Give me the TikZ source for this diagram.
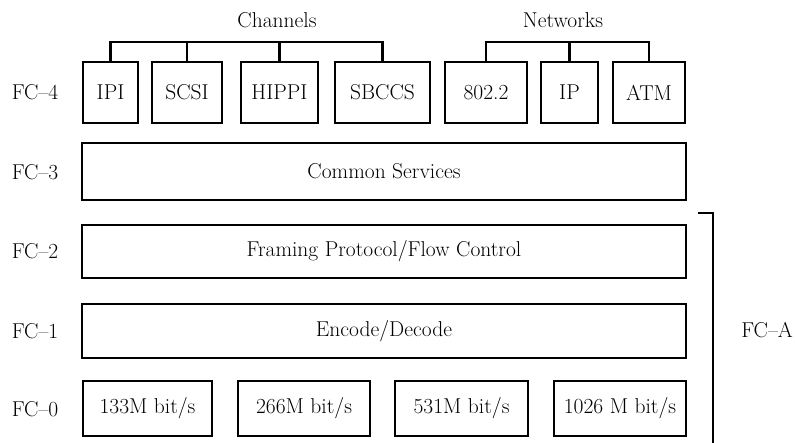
\documentclass[tikz,border=0pt]{standalone}
\usetikzlibrary{calc}
\begin{document}
\begin{tikzpicture}[x=1pt,y=-1pt,
  box/.style={draw,line width=2.6pt,rectangle,inner sep=0pt,font=\fontsize{21.5}{25}\selectfont},
  lbl/.style={inner sep=0pt,font=\fontsize{21.5}{25}\selectfont},
  bus/.style={line width=2.6pt},
  brk/.style={line width=1.8pt}]
\useasboundingbox (0,0) rectangle (795,443);
% FC-4 boxes
\node[box,minimum width=55pt,minimum height=61pt] (ipi) at (110.5,92.5) {IPI};
\node[box,minimum width=70pt,minimum height=61pt] (scsi) at (187,92.5) {SCSI};
\node[box,minimum width=77pt,minimum height=61pt] (hippi) at (279.5,92.5) {HIPPI};
\node[box,minimum width=95pt,minimum height=61pt] (sbccs) at (382.5,92.5) {SBCCS};
\node[box,minimum width=82pt,minimum height=61pt] (ieee) at (486,92.5) {802.2};
\node[box,minimum width=57pt,minimum height=61pt] (ip) at (569.5,92.5) {IP};
\node[box,minimum width=72pt,minimum height=61pt] (atm) at (649,92.5) {ATM};
% buses
\node[lbl] (chan) at (277,20) {Channels};
\node[lbl] (net) at (563,20) {Networks};
\coordinate (cb) at (0,42);
\draw[bus] (ipi.north) |- (sbccs.north |- cb) -- (sbccs.north);
\draw[bus] (scsi.north) -- (scsi.north |- cb);
\draw[bus] (hippi.north) -- (hippi.north |- cb);
\draw[bus] (ieee.north) |- (atm.north |- cb) -- (atm.north);
\draw[bus] (ip.north) -- (ip.north |- cb);
% layers
\node[box,minimum width=604pt,minimum height=57pt] (fc3) at (384,171.5) {Common Services};
\node[box,minimum width=604pt,minimum height=53pt] (fc2) at (384,251.5) {Framing Protocol/Flow Control};
\node[box,minimum width=604pt,minimum height=54pt] (fc1) at (384,331) {Encode/Decode};
% FC-0
\node[box,minimum width=129pt,minimum height=55pt] (r1) at (147.5,408.5) {133M bit/s};
\node[box,minimum width=132pt,minimum height=55pt] (r2) at (304,408.5) {266M bit/s};
\node[box,minimum width=133pt,minimum height=55pt] (r3) at (461.5,408.5) {531M bit/s};
\node[box,minimum width=132pt,minimum height=55pt] (r4) at (620,408.5) {1026 M bit/s};
% left labels
\node[lbl] (l4) at (35,92) {FC--4};
\node[lbl] (l3) at (35,172) {FC--3};
\node[lbl] (l2) at (35,251) {FC--2};
\node[lbl] (l1) at (35,331) {FC--1};
\node[lbl] (l0) at (35,409) {FC--0};
% FC-A bracket
\coordinate (ba) at (698,213);
\coordinate (bb) at (713,213);
\coordinate (bc) at (713,443);
\draw[brk] (ba) -- (bb) -- (bc);
\node[lbl] (fca) at (767,330) {FC--A};
\end{tikzpicture}
\end{document}
